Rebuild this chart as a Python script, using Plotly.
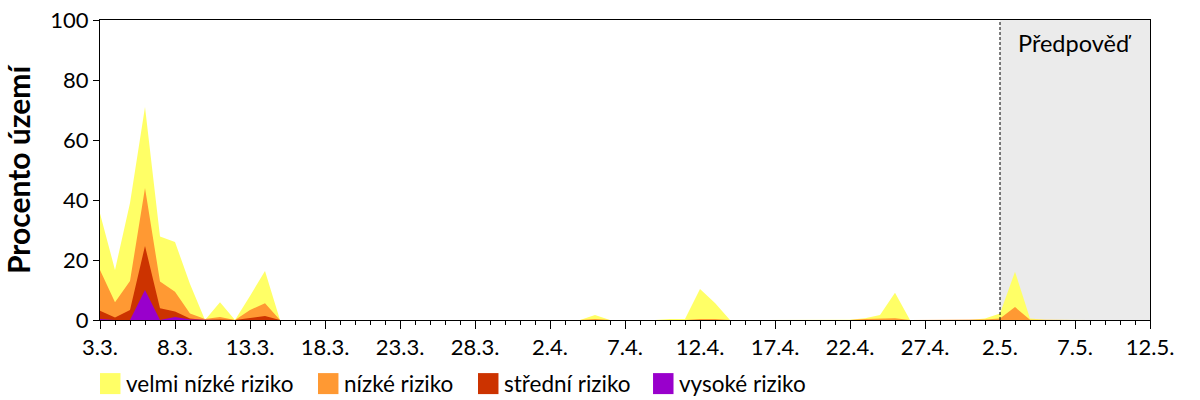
import pandas as pd
import plotly.graph_objects as go

# daily values, 3.3. .. 12.5. (percent of area)
dates = pd.date_range('2022-03-03', '2022-05-12', freq='D')
velmi_nizke = [35.5, 16.7, 39, 71, 27.8, 26, 12, 0, 5.9, 0,
               8, 16.3, 0, 0, 0, 0, 0, 0, 0, 0.2,
               0, 0, 0, 0, 0, 0.2, 0, 0, 0, 0,
               0, 0, 0, 1.7, 0, 0, 0, 0, 0.3, 0.3,
               10.3, 5.7, 0, 0, 0, 0, 0, 0, 0, 0,
               0.1, 0.6, 1.7, 9.1, 0, 0, 0, 0, 0, 0.5,
               2.2, 16.1, 0.5, 0.1, 0, 0, 0, 0, 0, 0,
               0]
nizke = [16.7, 5.9, 13, 44, 12.8, 9.4, 2.2, 0.3, 1, 0,
         3.3, 5.6, 0, 0, 0, 0, 0, 0, 0, 0,
         0, 0, 0, 0, 0, 0, 0, 0, 0, 0,
         0, 0, 0, 0.3, 0, 0, 0, 0, 0, 0,
         0.3, 0.3, 0, 0, 0, 0, 0, 0, 0, 0,
         0, 0.3, 0.4, 0.6, 0, 0, 0, 0, 0, 0.2,
         0.5, 4.3, 0.1, 0, 0, 0, 0, 0, 0, 0,
         0]
stredni = [3.1, 0.8, 3.3, 24.7, 3.9, 2.8, 0.5, 0, 0.2, 0,
           0.7, 1.3, 0, 0, 0, 0, 0, 0, 0, 0,
           0, 0, 0, 0, 0, 0, 0, 0, 0, 0,
           0, 0, 0, 0, 0, 0, 0, 0, 0, 0,
           0, 0, 0, 0, 0, 0, 0, 0, 0, 0,
           0, 0, 0, 0, 0, 0, 0, 0, 0, 0,
           0, 0, 0, 0, 0, 0, 0, 0, 0, 0,
           0]
vysoke = [0.3, 0, 0, 10, 0, 1, 0.2, 0, 0, 0] + [0] * 61

forecast_start = '2022-05-02'
forecast_end = '2022-05-12'

series = [
    ('velmi nízké riziko', velmi_nizke, '#FFFF66'),
    ('nízké riziko', nizke, '#FF9933'),
    ('střední riziko', stredni, '#CC3300'),
    ('vysoké riziko', vysoke, '#9900CC'),
]
# left edge of each legend square, as a fraction of the plot width
legend_x = [0.0, 0.2076, 0.36, 0.5267]

fig = go.Figure()

for (name, vals, color), lx in zip(series, legend_x):
    fig.add_trace(go.Scatter(
        x=dates, y=vals, mode='lines', fill='tozeroy',
        line=dict(width=0, color=color), fillcolor=color,
        showlegend=False, hoverinfo='x+y', name=name
    ))
    # legend drawn by hand: coloured square + label below the axis
    fig.add_shape(type='rect', xref='paper', yref='paper',
                  x0=lx, x1=lx + 0.0195, y0=-0.177, y1=-0.247,
                  fillcolor=color, line=dict(width=0))
    fig.add_annotation(x=lx + 0.023, y=-0.212, xref='paper', yref='paper',
                       text=name, showarrow=False, xanchor='left', yanchor='middle',
                       font=dict(size=22.5, color='black'))

# forecast area
fig.add_shape(type='rect', xref='x', yref='y', x0=forecast_start, x1=forecast_end,
              y0=0, y1=100, fillcolor='#EBEBEB', line=dict(width=0), layer='below')
fig.add_shape(type='line', xref='x', yref='y', x0=forecast_start, x1=forecast_start,
              y0=0, y1=100, line=dict(color='black', width=1, dash='3px,2px'), layer='above')
fig.add_annotation(x='2022-05-07', y=92.5, xref='x', yref='y', text='Předpověď',
                   showarrow=False, font=dict(size=23.5, color='black'))

fig.update_xaxes(
    range=[dates[0], dates[-1]], automargin=False,
    tickformat='%-d.%-m.', tick0=dates[0], dtick=5 * 86400000,
    ticks='outside', ticklen=8, tickcolor='black', tickwidth=1,
    minor=dict(dtick=86400000, ticks='outside', ticklen=4, tickcolor='black'),
    showline=True, linecolor='black', mirror=True, showgrid=False,
    tickfont=dict(size=22, color='black'), zeroline=False
)
fig.update_yaxes(
    range=[0, 100], dtick=20, automargin=False,
    ticks='outside', ticklen=6, tickcolor='black',
    showline=True, linecolor='black', mirror=True, showgrid=False,
    tickfont=dict(size=22, color='black'), zeroline=False,
    title=dict(text='<b>Procento území</b>', font=dict(size=30, color='black'), standoff=14)
)

fig.update_layout(
    width=1200, height=400,
    margin=dict(l=100, r=50, t=20, b=80),
    plot_bgcolor='white', paper_bgcolor='white',
    font=dict(family='Lato, Open Sans, sans-serif', color='black'),
    showlegend=False,
)

# drop the browser's default page margin so the figure sits at the window corner
fig.write_html('out.html', config={'displayModeBar': False},
               post_script="document.body.style.margin='0';")
